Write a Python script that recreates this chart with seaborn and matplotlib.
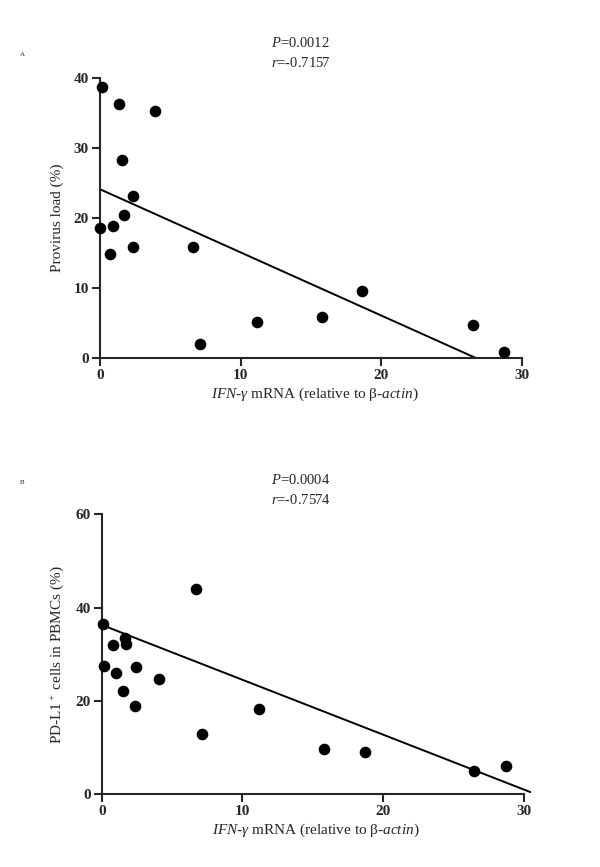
import numpy as np
import pandas as pd
import matplotlib
matplotlib.use('Agg')
import matplotlib.pyplot as plt
import seaborn as sns

# ── Data (IFN-gamma mRNA vs provirus load / PD-L1+) ──
ifn_a = [0.12, 1.37, 3.93, 1.59, 2.37, 1.71, 0.0, 0.95, 0.71, 2.37,
         6.64, 7.11, 11.19, 15.77, 18.6, 26.5, 28.7]
provirus = [38.7, 36.3, 35.2, 28.2, 23.2, 20.4, 18.6, 18.9, 14.9, 15.8,
            15.8, 2.0, 5.2, 5.9, 9.6, 4.75, 0.85]

ifn_b = [0.11, 0.16, 0.83, 1.68, 1.73, 1.02, 2.42, 1.49, 2.39, 4.06,
         6.71, 7.16, 11.22, 15.8, 18.72, 26.5, 28.73]
pdl1 = [36.5, 27.6, 32.1, 33.6, 32.2, 25.9, 27.3, 22.1, 19.0, 24.7,
        43.9, 12.9, 18.2, 9.8, 9.0, 5.06, 6.07]

# regression lines as printed in the figure (intercept, slope)
fit_a = (24.1, -0.90)
fit_b = (36.3, -1.175)

stats_a = ('0.0012', '-0.7157')
stats_b = ('0.0004', '-0.7574')

df_a = pd.DataFrame({'ifn': ifn_a, 'val': provirus})
df_b = pd.DataFrame({'ifn': ifn_b, 'val': pdl1})

sns.set_style('ticks')
plt.rcParams['font.family'] = ['Liberation Serif', 'DejaVu Serif']
plt.rcParams['mathtext.fontset'] = 'custom'
plt.rcParams['mathtext.rm'] = 'Liberation Serif'
plt.rcParams['mathtext.it'] = 'Liberation Serif:italic'
plt.rcParams['mathtext.bf'] = 'Liberation Serif:bold'

W, H = 600, 867
fig = plt.figure(figsize=(W / 100, H / 100), dpi=100)

XPX = 14.06  # pixels per x unit


def panel(df, fit, left_px, top_px, bottom_px, ymax, ystep, ylabel, stats, letter, letter_y, stat_y):
    width = XPX * 30.5
    ax = fig.add_axes([left_px / W, 1 - bottom_px / H,
                       width / W, (bottom_px - top_px) / H])
    sns.scatterplot(data=df, x='ifn', y='val', ax=ax, s=70, color='black',
                    linewidth=0, clip_on=False, zorder=3)
    ax.axline((0, fit[0]), slope=fit[1], color='black', lw=1.4)
    ax.set_xlim(0, 30.5)
    ax.set_ylim(0, ymax)
    sns.despine(ax=ax)
    ax.spines['left'].set_bounds(0, ymax)
    ax.spines['bottom'].set_bounds(0, 30)
    for s in ('left', 'bottom'):
        ax.spines[s].set_linewidth(1.5)
    ax.set_xticks([0, 10, 20, 30])
    ax.set_yticks(np.arange(0, ymax + 1, ystep))
    ax.tick_params(direction='out', length=6, width=1.5, pad=2, labelsize=11)
    for t in ax.get_xticklabels() + ax.get_yticklabels():
        t.set_fontweight('bold')
    ax.set_xlabel(r'$\mathit{IFN}$-$\mathit{\gamma}$ mRNA (relative to β-$\mathit{actin}$)',
                  fontsize=11, labelpad=2)
    ax.set_ylabel(ylabel, fontsize=11, labelpad=7)

    fig.text(271 / W, 1 - stat_y / H, r'$P$=' + stats[0], fontsize=10.5, va='center')
    fig.text(271 / W, 1 - (stat_y + 20) / H, r'$r$=' + stats[1], fontsize=10.5, va='center')
    fig.text(20 / W, 1 - letter_y / H, letter, fontsize=5, va='center')
    return ax


panel(df_a, fit_a, 100, 77.7, 358.3, 40, 10, 'Provirus load (%)', stats_a, 'A', 55, 43)
panel(df_b, fit_b, 101.7, 514.3, 794.3, 60, 20, r'PD-L1$^+$ cells in PBMCs (%)', stats_b, 'B', 482, 480)

fig.savefig('out.png', dpi=100)
